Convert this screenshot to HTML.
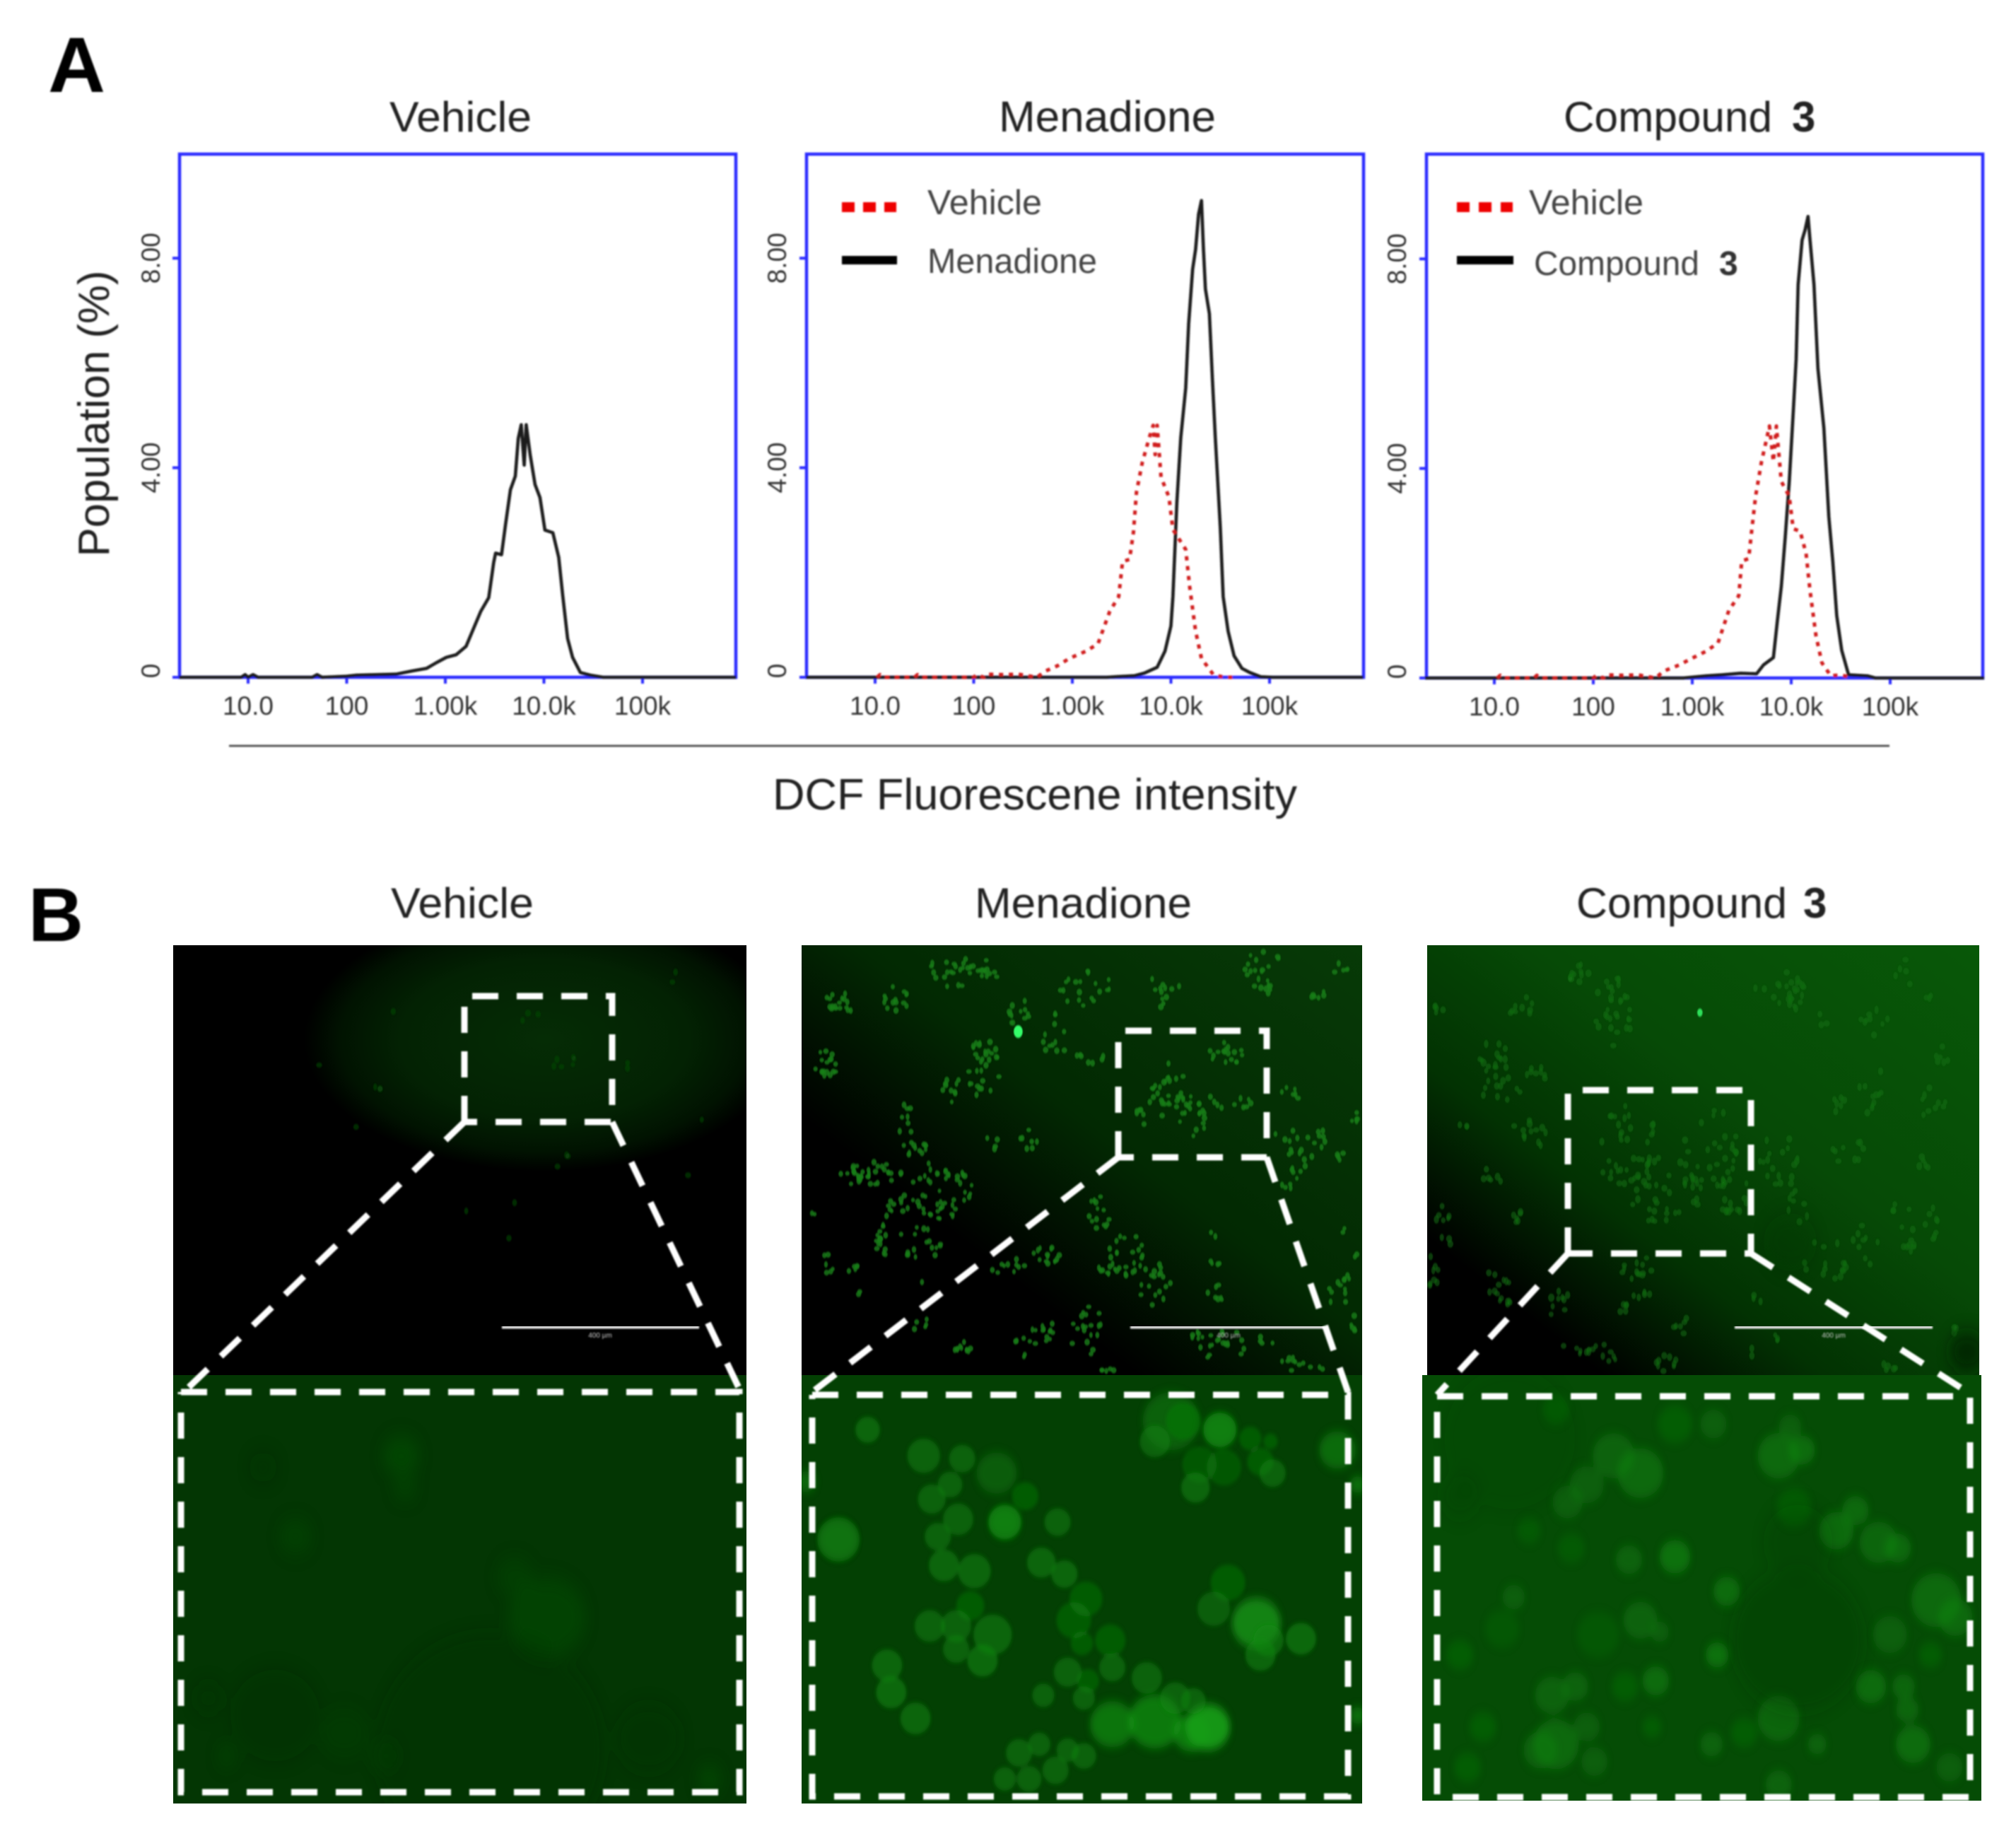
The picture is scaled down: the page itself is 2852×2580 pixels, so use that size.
<!DOCTYPE html>
<html lang="en">
<head>
<meta charset="utf-8">
<title>DCF fluorescence flow cytometry and microscopy</title>
<style>
html,body{margin:0;padding:0;background:#fff;width:2852px;height:2580px;overflow:hidden}
svg{display:block}
text{font-family:"Liberation Sans",sans-serif}
</style>
</head>
<body>
<svg id="fig" xmlns="http://www.w3.org/2000/svg" width="2852" height="2580" viewBox="0 0 2852 2580">
<defs>
<filter id="soft" x="-5%" y="-5%" width="110%" height="110%"><feGaussianBlur stdDeviation="1.1"/></filter>
<filter id="soft2" x="-5%" y="-5%" width="110%" height="110%"><feGaussianBlur stdDeviation="1.6"/></filter>
<filter id="cellblur" x="-5%" y="-5%" width="110%" height="110%"><feGaussianBlur stdDeviation="4"/></filter>
<filter id="blotch" x="-5%" y="-5%" width="110%" height="110%"><feGaussianBlur stdDeviation="8"/></filter>
<filter id="fogblur" x="-20%" y="-20%" width="140%" height="140%"><feGaussianBlur stdDeviation="16"/></filter>
<clipPath id="c1t"><rect x="245" y="1337" width="811" height="608"/></clipPath>
<clipPath id="c1b"><rect x="245" y="1945" width="811" height="606"/></clipPath>
<clipPath id="c2t"><rect x="1134" y="1337" width="793" height="608"/></clipPath>
<clipPath id="c2b"><rect x="1134" y="1945" width="793" height="606"/></clipPath>
<clipPath id="c3t"><rect x="2019" y="1337" width="781" height="608"/></clipPath>
<clipPath id="c3b"><rect x="2012" y="1945" width="791" height="602"/></clipPath>
<radialGradient id="g1" gradientUnits="userSpaceOnUse" cx="770" cy="1470" r="340" gradientTransform="translate(770 1470) scale(1 .55) translate(-770 -1470)">
<stop offset="0" stop-color="#052c05"/><stop offset=".6" stop-color="#032203"/><stop offset=".85" stop-color="#011301"/><stop offset="1" stop-color="#000"/>
</radialGradient>
<linearGradient id="g2" x1="0" y1="1" x2="1" y2="0">
<stop offset="0" stop-color="#000"/><stop offset=".3" stop-color="#000"/><stop offset=".55" stop-color="#022902"/><stop offset="1" stop-color="#073a07"/>
</linearGradient>
<linearGradient id="g3" x1="0" y1="1" x2="1" y2="0">
<stop offset="0" stop-color="#000"/><stop offset=".16" stop-color="#000"/><stop offset=".36" stop-color="#023202"/><stop offset=".6" stop-color="#064a06"/><stop offset="1" stop-color="#085808"/>
</linearGradient>
</defs>

<rect width="2852" height="2580" fill="#fff"/>

<g id="chartLayer" filter="url(#soft)">
<text x="68" y="130" font-size="110" font-weight="bold" fill="#000" textLength="81" lengthAdjust="spacingAndGlyphs">A</text>
<text x="551" y="186" font-size="60" fill="#222" textLength="201" lengthAdjust="spacingAndGlyphs">Vehicle</text>
<text x="1413" y="186" font-size="61" fill="#222" textLength="307" lengthAdjust="spacingAndGlyphs">Menadione</text>
<text x="2212" y="186" font-size="60" fill="#222" textLength="295" lengthAdjust="spacingAndGlyphs">Compound</text>
<text x="2535" y="186" font-size="60" font-weight="bold" fill="#222">3</text>
<text transform="rotate(-90 154 585)" x="154" y="585" text-anchor="middle" font-size="62" fill="#222" textLength="405" lengthAdjust="spacingAndGlyphs">Population (%)</text>
<line x1="324" y1="1055" x2="2673" y2="1055" stroke="#555" stroke-width="3"/>
<text x="1093" y="1145" font-size="62" fill="#222" textLength="742" lengthAdjust="spacingAndGlyphs">DCF Fluorescene intensity</text>

<g>
<line x1="1191" y1="293" x2="1268" y2="293" stroke="#ee0000" stroke-width="14" stroke-dasharray="18 12"/>
<line x1="1191" y1="368" x2="1269" y2="368" stroke="#000" stroke-width="12"/>
<text x="1312" y="303" font-size="49" fill="#444" textLength="162" lengthAdjust="spacingAndGlyphs">Vehicle</text>
<text x="1312" y="386" font-size="49" fill="#444" textLength="240" lengthAdjust="spacingAndGlyphs">Menadione</text>
</g>
<g>
<line x1="2061" y1="293" x2="2140" y2="293" stroke="#ee0000" stroke-width="14" stroke-dasharray="18 13"/>
<line x1="2061" y1="368" x2="2141" y2="368" stroke="#000" stroke-width="12"/>
<text x="2163" y="303" font-size="49" fill="#444" textLength="162" lengthAdjust="spacingAndGlyphs">Vehicle</text>
<text x="2170" y="389" font-size="48" fill="#444" textLength="234" lengthAdjust="spacingAndGlyphs">Compound</text>
<text x="2432" y="389" font-size="48" font-weight="bold" fill="#333">3</text>
</g>
</g>

<g id="micro">
<text x="40" y="1331" font-size="108" font-weight="bold" fill="#000" filter="url(#soft)">B</text>
<text x="553" y="1298" font-size="60" fill="#222" textLength="202" lengthAdjust="spacingAndGlyphs" filter="url(#soft)">Vehicle</text>
<text x="1379" y="1298" font-size="60" fill="#222" textLength="307" lengthAdjust="spacingAndGlyphs" filter="url(#soft)">Menadione</text>
<text x="2230" y="1298" font-size="60" fill="#222" textLength="298" lengthAdjust="spacingAndGlyphs" filter="url(#soft)">Compound</text>
<text x="2551" y="1298" font-size="60" font-weight="bold" fill="#222" filter="url(#soft)">3</text>

<rect x="245" y="1337" width="811" height="608" fill="#000"/>
<rect x="245" y="1337" width="811" height="608" fill="url(#g1)"/>
<rect x="245" y="1945" width="811" height="606" fill="#033603"/>
<rect x="1134" y="1337" width="793" height="608" fill="url(#g2)"/>
<rect x="1134" y="1945" width="793" height="606" fill="#034003"/>
<rect x="2019" y="1337" width="781" height="608" fill="url(#g3)"/>
<rect x="2012" y="1945" width="791" height="602" fill="#054c05"/>

<g id="tex1t" clip-path="url(#c1t)"></g>
<g id="tex1b" clip-path="url(#c1b)"></g>
<g id="tex2t" clip-path="url(#c2t)"></g>
<g id="tex2b" clip-path="url(#c2b)"></g>
<g id="tex3t" clip-path="url(#c3t)"></g>
<g id="tex3b" clip-path="url(#c3b)"></g>

<g filter="url(#soft)">
<line x1="710" y1="1877" x2="989" y2="1877" stroke="#ddd" stroke-width="5"/>
<text x="849" y="1892" font-size="10" text-anchor="middle" fill="#ccc">400 µm</text>
<line x1="1599" y1="1877" x2="1875" y2="1877" stroke="#ddd" stroke-width="5"/>
<text x="1738" y="1892" font-size="10" text-anchor="middle" fill="#ccc">400 µm</text>
<line x1="2454" y1="1877" x2="2734" y2="1877" stroke="#ddd" stroke-width="5"/>
<text x="2594" y="1892" font-size="10" text-anchor="middle" fill="#ccc">400 µm</text>
</g>

<g fill="none" stroke="#fff" stroke-width="9" stroke-dasharray="37 26" filter="url(#soft)">
<path d="M657 1587V1409H866V1587H657"/>
<path d="M657 1587L260 1969"/>
<path d="M866 1587L1048 1969"/>
<path d="M256 1969H1046V2535H256V1969"/>
<path d="M1582 1637V1458H1792V1637H1582"/>
<path d="M1582 1637L1149 1969"/>
<path d="M1792 1637L1907 1969"/>
<path d="M1149 1973H1907V2541H1149V1973"/>
<path d="M2218 1773V1542H2477V1773H2218"/>
<path d="M2218 1773L2033 1973"/>
<path d="M2477 1773L2774 1963"/>
<path d="M2033 1975H2787V2542H2033V1975"/>
</g>
</g>

<script>
// ---------- Chart data (log10 fluorescence intensity, population %) ----------
const xTickValues = [1, 2, 3, 4, 5];
const xTickLabels = ["10.0", "100", "1.00k", "10.0k", "100k"];
const yTickValues = [0, 4, 8];
const yTickLabels = ["0", "4.00", "8.00"];

const vehicleLog = [0.3,0.93,0.97,1.0,1.05,1.1,1.65,1.7,1.75,2.0,2.1,2.3,2.5,2.66,2.81,2.91,3.01,3.11,3.21,3.29,3.36,3.44,3.49,3.51,3.57,3.61,3.66,3.71,3.74,3.77,3.80,3.82,3.86,3.91,3.96,4.01,4.09,4.15,4.19,4.24,4.29,4.37,4.47,4.6,5.95];
const vehiclePop = [0,0,0.05,0,0.05,0,0,0.05,0,0.02,0.04,0.05,0.06,0.12,0.17,0.28,0.38,0.43,0.59,0.95,1.26,1.52,2.19,2.37,2.34,2.91,3.58,3.84,4.56,4.82,4.05,4.82,4.25,3.68,3.43,2.81,2.76,2.29,1.57,0.74,0.38,0.09,0.04,0,0];

const menadioneVehicleLog = [1.02,1.05,1.08,1.4,1.43,1.46,2.0,2.03,2.1,2.13,2.3,2.45,2.64,2.73,2.85,2.97,3.14,3.26,3.38,3.47,3.51,3.58,3.62,3.65,3.71,3.78,3.82,3.84,3.86,3.90,3.98,4.02,4.15,4.19,4.25,4.31,4.43,4.54,4.66];
const menadioneVehiclePop = [0,0.05,0,0,0.05,0,0,0.05,0,0.06,0.05,0.06,0,0.12,0.22,0.36,0.50,0.64,1.26,1.54,2.21,2.25,2.77,3.53,4.10,4.57,4.81,4.25,4.81,3.82,3.44,2.82,2.44,1.73,0.88,0.36,0.05,0,0];
const menadioneLog = [0.3,3.35,3.43,3.63,3.73,3.86,3.94,4.00,4.02,4.06,4.10,4.15,4.18,4.22,4.25,4.28,4.31,4.33,4.35,4.39,4.42,4.45,4.50,4.53,4.58,4.64,4.72,4.80,4.91,5.03,5.95];
const menadionePop = [0,0,0.01,0.03,0.08,0.19,0.50,0.98,1.54,3.34,4.57,5.52,6.75,7.79,8.17,8.84,9.10,8.17,7.41,6.94,5.71,4.57,2.87,1.54,0.88,0.41,0.17,0.09,0.01,0,0];

const compoundVehicleLog = [1.03,1.06,1.09,1.4,1.43,1.46,2.0,2.03,2.1,2.13,2.3,2.45,2.63,2.71,2.87,2.98,3.14,3.26,3.37,3.47,3.50,3.57,3.60,3.64,3.70,3.75,3.78,3.82,3.85,3.90,3.98,4.02,4.09,4.15,4.19,4.25,4.31,4.40,4.50,4.62];
const compoundVehiclePop = [0,0.05,0,0,0.05,0,0,0.05,0,0.06,0.05,0.06,0,0.13,0.25,0.36,0.51,0.67,1.29,1.57,2.23,2.28,2.80,3.47,4.13,4.55,4.81,4.13,4.81,3.75,3.47,2.85,2.80,2.38,1.67,0.81,0.29,0.04,0.06,0];
const compoundLog = [0.3,2.91,3.14,3.30,3.49,3.65,3.72,3.82,3.86,3.90,3.94,3.98,4.02,4.05,4.07,4.11,4.14,4.17,4.19,4.23,4.27,4.33,4.38,4.42,4.46,4.51,4.58,4.77,4.85,5.95];
const compoundPop = [0,0,0.04,0.06,0.09,0.08,0.25,0.39,1.09,1.75,2.70,3.74,5.06,6.09,7.51,8.36,8.55,8.81,8.36,7.51,5.91,4.77,3.08,2.23,1.19,0.53,0.06,0.04,0,0];

// ---------- Drawing ----------
const NS = 'http://www.w3.org/2000/svg';
const chartLayer = document.getElementById('chartLayer');

function make(tag, parent, attrs) {
  const node = document.createElementNS(NS, tag);
  for (const k in attrs) node.setAttribute(k, attrs[k]);
  parent.appendChild(node);
  return node;
}

function makeAxes(cfg) {
  const xScale = function (logValue) { return cfg.origin + (logValue - 1) * cfg.decade; };
  const yScale = function (value) { return cfg.bottom - value * 74.1; };
  const group = make('g', chartLayer, {});
  
  

  const frame = make('rect', group, {x: cfg.left, y: 218, width: cfg.right - cfg.left, height: cfg.bottom - 218, fill: 'none', stroke: '#2a2aff', 'stroke-width': 4.5});
  
  

  xTickValues.forEach(function (v, i) {
    const tick = make('line', group, {x1: xScale(v), x2: xScale(v), y1: cfg.bottom, y2: cfg.bottom + 9, stroke: '#2a2aff', 'stroke-width': 4});
    
    
    const label = make('text', group, {x: xScale(v), y: cfg.bottom + 53, 'text-anchor': 'middle', 'font-size': 37, fill: '#333'});
    label.textContent = xTickLabels[i];
    
    
  });
  yTickValues.forEach(function (v, i) {
    const tick = make('line', group, {x1: cfg.left - 10, x2: cfg.left, y1: yScale(v), y2: yScale(v), stroke: '#2a2aff', 'stroke-width': 4});
    
    
    const cy = yScale(v) - (v === 0 ? 9 : 0);
    const label = make('text', group, {x: cfg.labelX, y: cy, transform: 'rotate(-90 ' + cfg.labelX + ' ' + cy + ')', 'text-anchor': 'middle', 'font-size': 37, fill: '#333'});
    label.textContent = yTickLabels[i];
    
    
  });
  return {group: group, xScale: xScale, yScale: yScale};
}

function drawSeries(axes, logs, pops, color, dash, width) {
  const pts = logs.map(function (l, i) { return axes.xScale(l).toFixed(1) + ',' + axes.yScale(pops[i]).toFixed(1); }).join(' ');
  const attrs = {points: pts, fill: 'none', stroke: color, 'stroke-width': width, 'stroke-linejoin': 'round'};
  if (dash) attrs['stroke-dasharray'] = dash;
  return make('polyline', axes.group, attrs);
}

const axes1 = makeAxes({name: 'vehicle', left: 254, right: 1041, bottom: 958, origin: 351, decade: 139.5, labelX: 226});
const axes2 = makeAxes({name: 'menadione', left: 1141, right: 1929, bottom: 958, origin: 1238, decade: 139.5, labelX: 1112});
const axes3 = makeAxes({name: 'compound', left: 2018, right: 2805, bottom: 959, origin: 2114, decade: 140, labelX: 1989});

const line1 = drawSeries(axes1, vehicleLog, vehiclePop, '#1a1a1a', null, 4.6);



const line2b = drawSeries(axes2, menadioneLog, menadionePop, '#1a1a1a', null, 4.6);


const line2r = drawSeries(axes2, menadioneVehicleLog, menadioneVehiclePop, '#d01a1a', '6 8', 5);



const line3b = drawSeries(axes3, compoundLog, compoundPop, '#1a1a1a', null, 4.6);


const line3r = drawSeries(axes3, compoundVehicleLog, compoundVehiclePop, '#d01a1a', '6 8', 5);



// ---------- Microscopy textures (decorative, not chart data) ----------
let seed = 12345;
function rnd() { seed = (seed * 1664525 + 1013904223) % 4294967296; return seed / 4294967296; }

function layer(id, tx, ty, sx, filter) {
  return make('g', document.getElementById(id), {transform: 'translate(' + tx + ' ' + ty + ') scale(' + sx + ' 0.8163)', filter: 'url(#' + filter + ')'});
}
function spots(g, list, fill, op, r, mult) {
  list.forEach(function (c) {
    const n = Math.max(1, Math.round(c[4] * mult));
    for (let i = 0; i < n; i++) {
      const a = rnd() * 6.283, d = Math.sqrt(rnd());
      make('ellipse', g, {cx: c[0] + Math.cos(a) * d * c[2], cy: c[1] + Math.sin(a) * d * c[3], rx: r * (0.8 + rnd() * 0.5), ry: r * (0.7 + rnd() * 0.4), fill: fill, opacity: op});
    }
  });
}
function cells(g, list, fill, ring) {
  list.forEach(function (c) {
    const at = {cx: c[0], cy: c[1], rx: c[2], ry: c[2] * 0.72, fill: fill, opacity: c[3]};
    if (ring) { at.stroke = ring; at['stroke-width'] = 4; }
    make('ellipse', g, at);
  });
}

// vehicle
const v1t = layer('tex1t', 200, 1300, 0.574, 'soft2');
spots(v1t, [[620,160,6,6,1],[585,295,12,8,3],[1040,240,30,25,6],[960,170,25,25,3],[1210,255,15,15,2],[1320,100,15,15,2],[1380,350,10,6,1],[1040,420,20,15,3],[925,495,8,5,1],[905,555,6,8,1],[430,250,14,6,1],[530,355,6,6,1],[1345,440,10,8,1],[800,510,5,5,1]], '#0a470a', 0.6, 6, 1);
const v1b = layer('tex1b', 200, 1300, 0.574, 'fogblur');
cells(v1b, [[1000,1210,95,0.32],[920,1140,45,0.22],[640,930,45,0.4],[650,985,28,0.3],[380,1070,40,0.25],[1400,1490,30,0.4],[600,1450,35,0.2],[210,1450,22,0.3],[500,1410,60,0.1]], '#0a5c0a');
cells(v1b, [[860,1440,280,0.28],[1250,1420,80,0.25],[330,1380,110,0.18],[165,1350,35,0.25],[300,950,35,0.18]], '#012a01');

// menadione
const v2t = layer('tex2t', 1100, 1300, 0.574, 'soft2');
spots(v2t, [[150,145,40,25,14],[120,250,40,25,14],[300,135,60,25,12],[430,90,60,30,18],[520,100,30,30,10],[600,170,35,30,10],[510,260,50,50,26],[430,290,25,30,8],[690,200,40,40,10],[760,120,70,30,16],[770,240,40,10,6],[950,120,40,40,10],[1200,90,50,40,18],[1320,130,30,20,5],[1390,85,20,15,4],[1110,230,50,20,14],[960,290,50,60,24],[1040,340,60,40,20],[900,340,20,20,5],[1150,320,30,15,5],[1265,300,30,15,5],[1420,340,15,15,4],[1270,400,60,40,14],[1340,380,20,20,6],[1385,410,15,10,3],[1260,450,20,20,5],[320,350,25,30,7],[350,395,50,15,10],[240,440,65,20,25],[180,440,30,20,6],[400,470,80,50,40],[300,500,40,30,10],[260,555,20,30,12],[350,560,60,30,14],[120,600,30,20,5],[190,605,20,10,4],[80,510,15,5,2],[530,385,20,15,3],[615,385,25,20,6],[790,510,30,30,12],[840,580,70,40,24],[920,630,50,40,16],[1065,550,15,10,2],[1080,595,25,5,3],[1075,650,25,20,6],[660,580,40,20,12],[560,600,50,15,8],[350,700,25,15,4],[460,742,25,12,8],[205,650,10,10,2],[350,632,8,8,1],[640,710,40,30,12],[760,710,40,50,16],[600,740,20,20,4],[820,780,25,10,4],[1100,740,60,30,14],[1040,730,40,15,6],[1380,640,35,35,10],[1420,700,15,15,4],[1300,770,60,15,10],[1200,730,25,10,3],[1420,580,10,10,2],[1390,540,15,5,2]], '#178017', 0.8, 5.5, 1.2);
make('circle', v2t, {cx: 593, cy: 195, r: 11, fill: '#35ff6a'});

const v2bFog = layer('tex2b', 1100, 1300, 0.574, 'blotch');
cells(v2bFog, [[825,1395,55,0.55],[930,1390,65,0.6],[1060,1400,55,0.9],[1020,1410,45,0.6],[1180,1220,60,0.7],[970,870,70,0.35],[1090,885,40,0.55],[560,1045,38,0.55],[540,960,50,0.3],[1380,920,45,0.45],[1430,980,20,0.5],[70,975,25,0.4],[1430,1380,20,0.5],[150,1075,45,0.35]], '#18a018');
const v2b = layer('tex2b', 1100, 1300, 0.574, 'cellblur');
cells(v2b, [[222,885,28,0.55],[360,930,38,0.5],[455,935,30,0.5],[425,980,28,0.5],[380,1005,32,0.5],[610,1000,30,0.42],[445,1040,35,0.5],[560,1045,38,0.65],[690,1045,30,0.5],[150,1075,50,0.5],[395,1070,30,0.5],[410,1120,35,0.55],[485,1130,38,0.55],[650,1115,33,0.55],[707,1135,30,0.55],[760,1178,38,0.42],[475,1190,32,0.42],[375,1225,35,0.5],[440,1225,35,0.5],[530,1240,45,0.55],[730,1215,40,0.42],[750,1255,25,0.42],[820,1250,35,0.42],[440,1265,30,0.5],[505,1285,35,0.6],[270,1293,35,0.55],[280,1340,35,0.6],[340,1385,35,0.55],[715,1305,32,0.5],[825,1297,30,0.5],[765,1320,25,0.42],[655,1345,25,0.5],[755,1350,25,0.5],[910,1315,35,0.5],[980,1350,35,0.5],[1025,1355,28,0.5],[595,1445,30,0.5],[645,1430,25,0.5],[715,1440,25,0.5],[755,1450,28,0.5],[685,1475,30,0.5],[620,1490,28,0.5],[560,1490,25,0.5],[930,905,35,0.5],[1000,870,40,0.42],[1090,885,38,0.65],[1165,900,25,0.42],[1215,905,15,0.42],[1040,945,40,0.35],[1100,950,40,0.35],[1030,985,33,0.55],[1190,940,30,0.42],[1220,960,30,0.5],[1110,1150,40,0.42],[1075,1195,38,0.45],[1210,1250,35,0.55],[1290,1247,35,0.6],[1190,1275,35,0.55]], '#108410', '#168f16');

// compound
const v3t = layer('tex3t', 2000, 1300, 0.5434, 'soft2');
spots(v3t, [[430,100,30,30,8],[520,160,50,60,20],[280,150,40,20,6],[200,240,50,40,10],[320,270,30,15,5],[230,300,50,30,8],[60,155,20,10,3],[300,370,50,30,8],[210,445,30,20,4],[270,515,15,15,4],[80,530,30,40,6],[50,600,20,40,5],[560,400,80,80,25],[650,470,100,60,25],[780,400,80,70,20],[830,480,40,50,12],[950,130,70,40,12],[990,130,30,25,6],[1200,180,40,30,6],[1060,175,20,15,2],[1100,320,30,15,4],[1190,330,15,15,2],[1350,320,40,30,6],[1380,230,40,20,4],[1280,100,30,30,3],[1350,130,20,10,2],[950,420,60,50,12],[1130,410,50,30,6],[1330,420,30,15,3],[1200,290,40,30,5],[1300,530,70,50,14],[1180,560,40,40,6],[1080,590,70,40,10],[1000,500,30,30,5],[590,620,50,40,12],[545,670,15,15,3],[380,670,30,30,6],[240,660,20,20,4],[210,630,40,20,6],[440,740,50,15,6],[510,750,20,20,4],[660,770,30,15,6],[700,700,25,20,4],[890,660,20,10,2],[1395,710,20,10,3],[945,725,12,10,2],[1240,775,25,10,3],[880,750,8,8,1],[130,360,20,8,2]], '#147014', 0.55, 6.5, 1.5);
make('circle', v3t, {cx: 745, cy: 162, r: 7, fill: '#2fe05a'});
const v3tFog = layer('tex3t', 2000, 1300, 0.5434, 'fogblur');
cells(v3tFog, [[1440,750,45,0.7],[980,560,70,0.15]], '#011f01');

const v3b = layer('tex3b', 2000, 1300, 0.5434, 'blotch');
cells(v3b, [[590,960,60,0.5],[520,930,55,0.4],[400,1010,40,0.35],[450,980,45,0.35],[680,1105,40,0.65],[560,1110,35,0.4],[950,930,55,0.5],[1010,920,35,0.55],[990,1020,45,0.3],[1100,1060,45,0.55],[1150,1025,35,0.5],[1210,1080,50,0.45],[1260,1090,35,0.5],[1360,1180,65,0.5],[1410,1210,45,0.5],[1240,1240,45,0.35],[1190,1330,40,0.55],[1275,1330,30,0.45],[1285,1370,30,0.45],[1300,1430,45,0.55],[1345,1275,30,0.3],[1395,1470,35,0.35],[790,1275,30,0.65],[630,1320,35,0.55],[590,1215,45,0.4],[640,1235,25,0.35],[815,1165,35,0.55],[260,1175,30,0.35],[120,1275,35,0.3],[360,1345,45,0.4],[420,1330,35,0.4],[370,1430,60,0.5],[330,1440,45,0.4],[950,1385,55,0.45],[860,1410,35,0.3],[775,1430,30,0.4],[1050,1430,25,0.4],[180,1400,35,0.3],[140,1470,35,0.3],[450,1400,35,0.35],[470,1460,35,0.35],[680,875,45,0.3],[780,875,35,0.35],[370,850,35,0.3],[980,880,30,0.35],[300,1060,30,0.25],[410,1090,35,0.25],[620,1400,25,0.3],[950,1500,35,0.4],[550,1330,35,0.3],[230,1230,45,0.2],[480,1240,55,0.2]], '#128512');
const v3bDark = layer('tex3b', 2000, 1300, 0.5434, 'fogblur');
cells(v3bDark, [[1000,1250,170,0.25],[1000,1080,90,0.15],[250,900,170,0.1],[120,1000,50,0.2]], '#023302');
</script>
</svg>
</body>
</html>
